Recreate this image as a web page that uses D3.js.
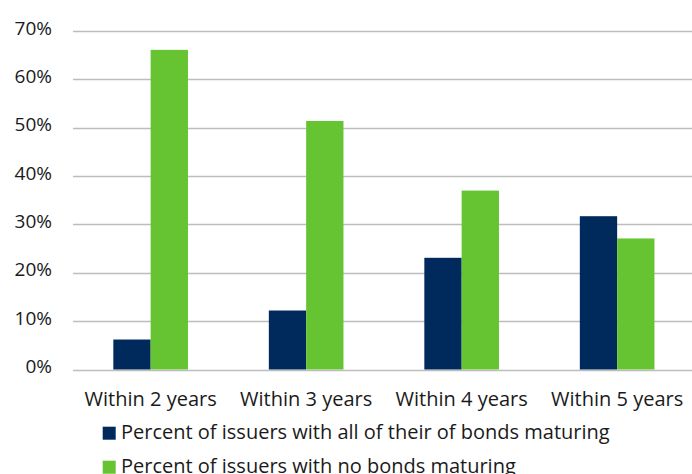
<!DOCTYPE html>
<html>
<head>
<meta charset="utf-8">
<script src="https://cdn.jsdelivr.net/npm/d3@7"></script>
<style>
  html, body { margin: 0; padding: 0; background: #fff; }
  svg text { font-family: "Open Sans", "Noto Sans", sans-serif; fill: #1a1a1a; }
</style>
</head>
<body>
<svg id="chart" width="692" height="474"></svg>
<script>
// Share of issuers by maturity horizon
const categories = ["Within 2 years", "Within 3 years", "Within 4 years", "Within 5 years"];
const allMaturing = [6.2, 12.2, 23.1, 31.7];
const noneMaturing = [66.1, 51.4, 37.0, 27.1];
const seriesNames = [
  "Percent of issuers with all of their of bonds maturing",
  "Percent of issuers with no bonds maturing"
];
const seriesColors = ["#002A5C", "#66C433"];
const yTicks = [0, 10, 20, 30, 40, 50, 60, 70];

const svg = d3.select("#chart");
const plot = { left: 72.9, right: 694.9, top: 31, bottom: 369.5 };

const x = d3.scaleBand().domain(categories).range([plot.left, plot.right]).paddingInner(0.52).paddingOuter(0.26);
const xs = d3.scaleBand().domain([0, 1]).range([0, x.bandwidth()]);
const y = d3.scaleLinear().domain([0, 70]).range([plot.bottom, plot.top]);

// Gridlines
svg.append("g").selectAll("line").data(yTicks).join("line")
  .attr("x1", 73).attr("x2", 692)
  .attr("y1", d => Math.round(y(d)) + 0.5).attr("y2", d => Math.round(y(d)) + 0.5)
  .attr("stroke", "#BDBDBD").attr("stroke-width", 1.5);

// Y axis labels
const yAxis = d3.axisLeft(y).tickValues(yTicks).tickFormat(d => d + "%").tickSize(0).tickPadding(0);
const gy = svg.append("g").attr("transform", "translate(52,0)").call(yAxis);
gy.select(".domain").remove();
gy.selectAll("text").attr("font-size", 19).attr("dy", 3).attr("text-anchor", "end")
  .style("font-family", "'Open Sans', sans-serif").attr("fill", "#1a1a1a");

// Bars
const series = [allMaturing, noneMaturing];
series.forEach((vals, si) => {
  svg.append("g").selectAll("rect").data(vals).join("rect")
    .attr("x", (d, i) => x(categories[i]) + xs(si))
    .attr("width", xs.bandwidth())
    .attr("y", d => y(d))
    .attr("height", d => y(0) - y(d))
    .attr("fill", seriesColors[si]);
});

// X axis labels
const xAxis = d3.axisBottom(x).tickSize(0).tickPadding(0);
const gx = svg.append("g").attr("transform", "translate(0,405.5)").call(xAxis);
gx.select(".domain").remove();
gx.selectAll("text").attr("font-size", 20).attr("dy", 0).attr("y", 0)
  .style("font-family", "'Open Sans', sans-serif").attr("fill", "#1a1a1a");

// Legend
const legend = svg.append("g");
seriesNames.forEach((name, i) => {
  const yy = 426.7 + i * 34;
  legend.append("rect").attr("x", 102.7).attr("y", yy).attr("width", 13).attr("height", 13).attr("fill", seriesColors[i]);
  legend.append("text").attr("x", 121).attr("y", yy + 12.5).attr("font-size", 20).text(name);
});
</script>
</body>
</html>
